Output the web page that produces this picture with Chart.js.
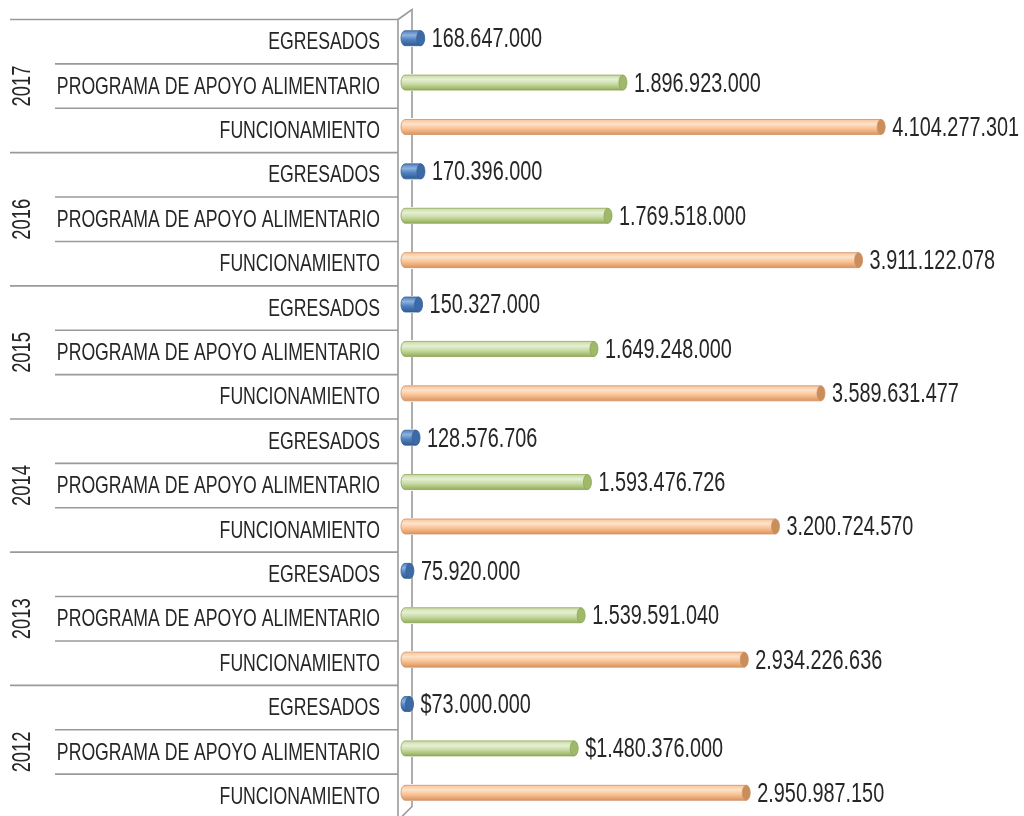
<!DOCTYPE html>
<html>
<head>
<meta charset="utf-8">
<script src="https://cdn.jsdelivr.net/npm/chart.js@4.4.1/dist/chart.umd.min.js"></script>
<style>
  html, body { margin: 0; padding: 0; background: #fff; overflow: hidden; }
  #wrap { position: relative; width: 1024px; height: 816px; }
</style>
</head>
<body>
<div id="wrap"><canvas id="presupuesto-chart"></canvas></div>
<script>
// ==== Datos por año ====
var years = ['2012', '2013', '2014', '2015', '2016', '2017'];
var categories = ['EGRESADOS', 'PROGRAMA DE APOYO ALIMENTARIO', 'FUNCIONAMIENTO'];
var egresados = [73000000, 75920000, 128576706, 150327000, 170396000, 168647000];
var programaAlimentario = [1480376000, 1539591040, 1593476726, 1649248000, 1769518000, 1896923000];
var funcionamiento = [2950987150, 2934226636, 3200724570, 3589631477, 3911122078, 4104277301];
// filas que llevan signo de pesos en la etiqueta
var conSigno = ['2012|EGRESADOS', '2012|PROGRAMA DE APOYO ALIMENTARIO'];

var FONT = '"Liberation Sans", Arial, sans-serif';
var NARROW = 0.735;   // letra angosta tipo Arial Narrow
var TEXT_COLOR = '#262626';

// filas de arriba hacia abajo: 2017 primero
var rowLabels = [], rowValues = [], rowYear = [], rowCat = [];
for (var y = years.length - 1; y >= 0; y--) {
    var vals = [egresados[y], programaAlimentario[y], funcionamiento[y]];
    for (var c = 0; c < categories.length; c++) {
        rowLabels.push(categories[c]);
        rowValues.push(vals[c]);
        rowYear.push(years[y]);
        rowCat.push(c);
    }
}

var palette = [
    { top: '#8fb1e0', mid: '#4f81bd', bot: '#2f5b94', cap: '#3c6aa6', edge: '#365f93' },
    { top: '#e6efd5', mid: '#c8dba2', bot: '#93ad5c', cap: '#9fb86a', edge: '#8ca455' },
    { top: '#fde3cb', mid: '#fac396', bot: '#d99560', cap: '#c98e5a', edge: '#cf9264' }
];

function formatValue(v) {
    return String(v).replace(/\B(?=(\d{3})+(?!\d))/g, '.');
}

// texto angosto: escala horizontal sobre Liberation Sans
function narrowText(ctx, txt, x, y, size, align) {
    ctx.save();
    ctx.font = size + 'px ' + FONT;
    ctx.textBaseline = 'middle';
    ctx.textAlign = 'left';
    var w = ctx.measureText(txt).width * NARROW;
    var x0 = align === 'right' ? x - w : (align === 'center' ? x - w / 2 : x);
    ctx.translate(x0, y);
    ctx.scale(NARROW, 1);
    ctx.fillText(txt, 0, 0);
    ctx.restore();
}

var ROW_SHIFT = 3.5;

// ==== Rejilla de etiquetas, años y pared del eje ====
var labelGrid = {
    id: 'labelGrid',
    beforeDatasetsDraw: function (chart) {
        var ctx = chart.ctx, area = chart.chartArea, yScale = chart.scales.y;
        var n = rowLabels.length;
        var step = (yScale.getPixelForValue(1) - yScale.getPixelForValue(0));
        var front = area.left - 3;
        ctx.save();
        ctx.strokeStyle = '#9a9a9a';
        ctx.lineWidth = 1.6;
        for (var k = 0; k <= n; k++) {
            var py = yScale.getPixelForValue(k) - step / 2 + ROW_SHIFT;
            var x0 = (k % 3 === 0) ? 10 : 55;
            ctx.beginPath();
            ctx.moveTo(x0, py);
            ctx.lineTo(front, py);
            ctx.stroke();
        }
        // pared lateral
        var topY = yScale.getPixelForValue(0) - step / 2 + ROW_SHIFT;
        var botY = yScale.getPixelForValue(n - 1) + step / 2 + ROW_SHIFT;
        ctx.beginPath();
        ctx.moveTo(front, topY);
        ctx.lineTo(front, botY);
        ctx.moveTo(front, topY);
        ctx.lineTo(front + 14, topY - 10);
        ctx.lineTo(front + 14, botY - 12);
        ctx.lineTo(front + 2, botY);
        ctx.stroke();

        ctx.fillStyle = TEXT_COLOR;
        // categorías
        for (var i = 0; i < n; i++) {
            narrowText(ctx, rowLabels[i], 380, yScale.getPixelForValue(i) + ROW_SHIFT + 1, 24, 'right');
        }
        // años rotados
        for (var g = 0; g < n / 3; g++) {
            var cy = (yScale.getPixelForValue(g * 3) + yScale.getPixelForValue(g * 3 + 2)) / 2 + ROW_SHIFT;
            ctx.save();
            ctx.translate(23, cy);
            ctx.rotate(-Math.PI / 2);
            narrowText(ctx, rowYear[g * 3], 0, 0, 25, 'center');
            ctx.restore();
        }
        ctx.restore();
    }
};

// ==== Barras cilíndricas y etiquetas de valor ====
var cylinderBars = {
    id: 'cylinderBars',
    afterDatasetsDraw: function (chart) {
        var ctx = chart.ctx;
        var meta = chart.getDatasetMeta(0);
        ctx.save();
        meta.data.forEach(function (bar, i) {
            var p = bar.getProps(['x', 'y', 'base', 'height'], true);
            var col = palette[rowCat[i]];
            var h = p.height, t = p.y - h / 2, b = p.y + h / 2;
            var rx = 4;
            var x0 = p.base + rx, x1 = Math.max(p.x, x0 + 2);
            var grad = ctx.createLinearGradient(0, t, 0, b);
            grad.addColorStop(0, col.mid);
            grad.addColorStop(0.3, col.top);
            grad.addColorStop(0.6, col.mid);
            grad.addColorStop(1, col.bot);
            ctx.clearRect(p.base - 1, t - 1, x1 - p.base + 2, h + 2);
            ctx.fillStyle = grad;
            ctx.strokeStyle = col.edge;
            ctx.lineWidth = 0.8;
            ctx.beginPath();
            ctx.moveTo(x1, t);
            ctx.lineTo(x0, t);
            ctx.ellipse(x0, p.y, rx, h / 2, 0, -Math.PI / 2, Math.PI / 2, true);
            ctx.lineTo(x1, b);
            ctx.closePath();
            ctx.fill();
            ctx.stroke();
            ctx.beginPath();
            ctx.ellipse(x1, p.y, rx, h / 2, 0, 0, Math.PI * 2);
            ctx.fillStyle = col.cap;
            ctx.fill();
            ctx.stroke();

            var key = rowYear[i] + '|' + rowLabels[i];
            var txt = (conSigno.indexOf(key) >= 0 ? '$' : '') + formatValue(rowValues[i]);
            ctx.fillStyle = TEXT_COLOR;
            narrowText(ctx, txt, x1 + rx + 7, p.y + 1.5, 27, 'left');
        });
        ctx.restore();
    }
};

var ctxPresupuesto = document.getElementById('presupuesto-chart').getContext('2d');

var presupuestoChart = new Chart(ctxPresupuesto, {
    type: 'bar',
    data: {
        labels: rowLabels,
        datasets: [{
            data: rowValues,
            backgroundColor: rowCat.map(function (c) { return palette[c].mid; }),
            barThickness: 15
        }]
    },
    options: {
        indexAxis: 'y',
        responsive: true,
        maintainAspectRatio: false,
        animation: false,
        layout: { padding: { top: 16, bottom: 1, right: 38, left: 0 } },
        plugins: {
            legend: { display: false },
            tooltip: { enabled: false }
        },
        scales: {
            x: {
                display: false,
                min: 0,
                max: 5000000000
            },
            y: {
                grid: { display: false },
                border: { display: false },
                ticks: { display: false },
                afterFit: function (scale) {
                    scale.width = 401;
                    scale.paddingTop = 0;
                    scale.paddingBottom = 0;
                }
            }
        }
    },
    plugins: [labelGrid, cylinderBars]
});
</script>
</body>
</html>
